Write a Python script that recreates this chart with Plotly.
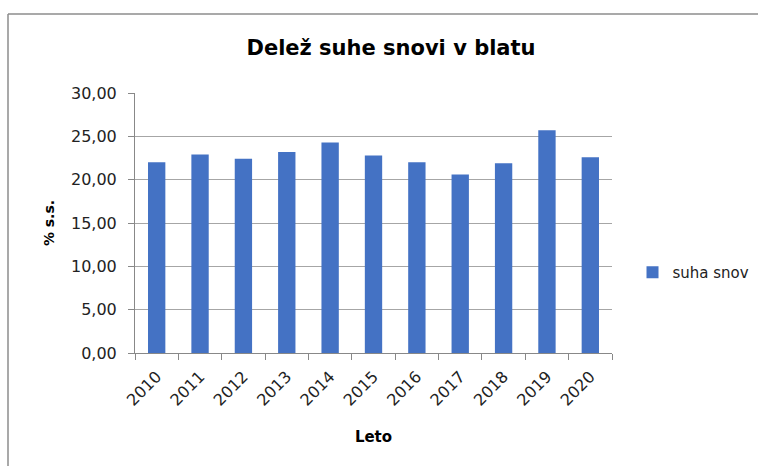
import plotly.graph_objects as go

years = ["2010", "2011", "2012", "2013", "2014", "2015", "2016", "2017", "2018", "2019", "2020"]
values = [22.0, 22.9, 22.4, 23.2, 24.3, 22.8, 22.0, 20.6, 21.9, 25.7, 22.6]
series_name = "suha snov"
title_text = "Delež suhe snovi v blatu"
x_title = "Leto"
y_title = "% s.s."

FONT = "DejaVu Sans"

fig = go.Figure()
fig.add_trace(go.Bar(
    x=years, y=values, name=series_name,
    marker=dict(color="#4472C4", line=dict(width=0)),
    showlegend=True,
))

grid = "#a6a6a6"
fig.update_layout(
    width=758, height=466,
    margin=dict(l=135, r=146, t=93, b=113, autoexpand=False),
    paper_bgcolor="white", plot_bgcolor="white",
    separators=", ",
    bargap=0.6,
    font=dict(family=FONT, size=16, color="#222222"),
    title=dict(text="<b>" + title_text + "</b>", x=391 / 758, xref="container", xanchor="center",
               y=1 - 48 / 466, yanchor="middle", yref="container",
               font=dict(family=FONT, size=21, color="black")),
    xaxis=dict(
        type="category", tickangle=-45, showgrid=False, automargin=False,
        showline=True, linecolor="#888888", linewidth=1,
        ticks="outside", ticklen=6, tickcolor="#888888", tickson="boundaries",
        ticklabelstandoff=7,
        tickfont=dict(family=FONT, size=16, color="#222222"),
        title=dict(text="<b>" + x_title + "</b>", standoff=23,
                   font=dict(family=FONT, size=15, color="black")),
    ),
    yaxis=dict(
        range=[0, 30], dtick=5, tickformat=".2f", automargin=False,
        showgrid=True, gridcolor=grid, gridwidth=1,
        showline=True, linecolor="#888888", linewidth=1,
        ticks="outside", ticklen=6, tickcolor="#888888",
        ticklabelstandoff=8,
        zeroline=False,
        tickfont=dict(family=FONT, size=16, color="#222222"),
        title=dict(text="<b>" + y_title + "</b>", standoff=13,
                   font=dict(family=FONT, size=14, color="black")),
    ),
    legend=dict(x=1.043, y=0.31, xanchor="left", yanchor="middle",
                font=dict(family=FONT, size=15, color="#222222"),
                bgcolor="rgba(0,0,0,0)"),
    shapes=[
        dict(type="line", xref="paper", yref="paper",
             x0=(8 - 135) / 477, x1=(8 - 135) / 477,
             y0=(353 - 14) / 260, y1=(353 - 470) / 260,
             line=dict(color="#8c8c8c", width=1.5)),
        dict(type="line", xref="paper", yref="paper",
             x0=(8 - 135) / 477, x1=(762 - 135) / 477,
             y0=(353 - 14) / 260, y1=(353 - 14) / 260,
             line=dict(color="#8c8c8c", width=1.5)),
    ],
)

fig.write_html("out.html", config={"displayModeBar": False},
               post_script="document.body.style.margin='0';")
